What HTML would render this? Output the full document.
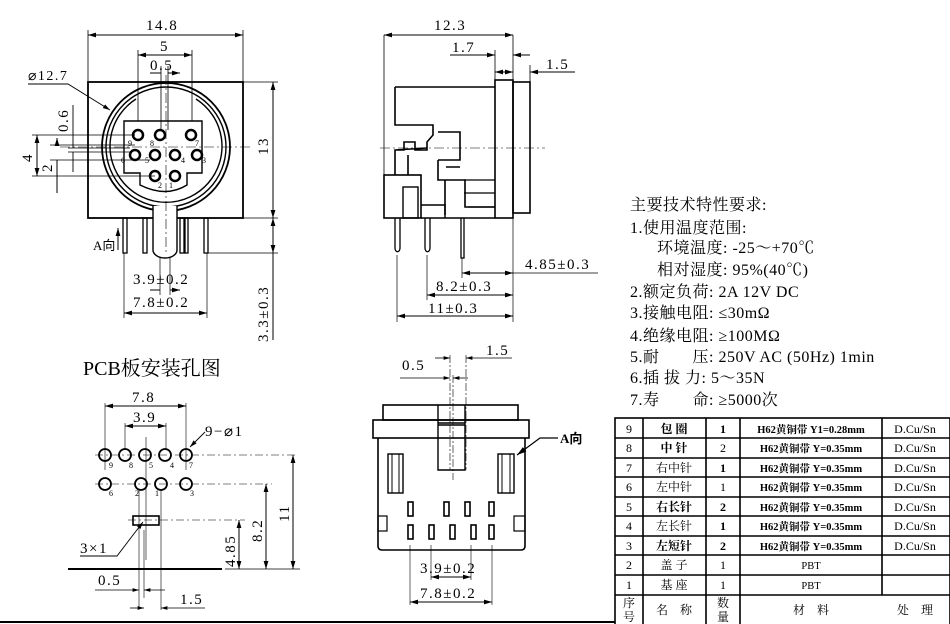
<!DOCTYPE html>
<html><head><meta charset="utf-8"><style>
html,body{margin:0;padding:0;background:#fff;}
svg{display:block;}
text{font-family:"Liberation Serif","Noto Serif CJK SC",serif;fill:#000;}
.c{font-family:"Liberation Serif","Noto Sans CJK SC",sans-serif;}
.d text{letter-spacing:1.5px;}
</style></head><body>
<svg width="950" height="624" viewBox="0 0 950 624" xmlns="http://www.w3.org/2000/svg">
<defs>
<marker id="a" viewBox="0 0 10 6" refX="10" refY="3" markerWidth="8" markerHeight="5" orient="auto-start-reverse"><path d="M0,0L10,3L0,6z" fill="#000"/></marker>
</defs>
<g stroke="#000" fill="none" stroke-width="1">
<rect x="88" y="82" width="155" height="136" stroke-width="1.8"/>
<circle cx="166" cy="147" r="64" stroke-width="1.8"/>
<circle cx="166" cy="147" r="60" stroke-width="1.4"/>
<path d="M136,99 A56,56 0 1 0 196,99" stroke-width="1.4"/>
<path d="M153,206 L153,250 A12,8 0 0 0 177,250 L177,206" fill="#fff" stroke-width="1.4"/>
<path d="M124,121 L202,121 L202,173 L187,173 L187,185 Q166,198 140,185 L140,173 L124,173 Z" stroke-width="1.4"/>
<g stroke-width="2.5">
<circle cx="138" cy="135" r="5"/><circle cx="160" cy="135" r="5"/><circle cx="191" cy="135" r="5"/>
<circle cx="135" cy="155" r="5"/><circle cx="155" cy="155" r="5"/><circle cx="175" cy="155" r="5"/><circle cx="197" cy="155" r="5"/>
<circle cx="155" cy="176" r="5"/><circle cx="175" cy="176" r="5"/>
</g>
<g stroke-width="1.3">
<rect x="123" y="218" width="4" height="35"/><rect x="143" y="218" width="4" height="35"/>
<rect x="180" y="218" width="4" height="35"/><rect x="185" y="218" width="3" height="35"/><rect x="204" y="218" width="4" height="35"/>
</g>
<path d="M88,82V30M243,82V30M138,121V50M192,121V50M161,130V66M168,130V66" stroke-width="0.8"/>
<line x1="88" y1="35" x2="243" y2="35" marker-start="url(#a)" marker-end="url(#a)"/>
<line x1="138" y1="55" x2="192" y2="55" marker-start="url(#a)" marker-end="url(#a)"/>
<path d="M150,73H161M168,73H180" marker-end="url(#a)"/>
<path d="M28,84H68L110,110" stroke-width="0.9" marker-end="url(#a)"/>
<path d="M243,82H278M243,218H278M208,253H278" stroke-width="0.8"/>
<line x1="273" y1="82" x2="273" y2="218" marker-start="url(#a)" marker-end="url(#a)"/>
<line x1="273" y1="218" x2="273" y2="253" marker-start="url(#a)" marker-end="url(#a)"/>
<line x1="273" y1="253" x2="273" y2="340"/>
<path d="M32,135H135M32,176H155M50,145H135M50,160H150M68,148H130M68,152H130" stroke-width="0.7"/>
<line x1="37" y1="135" x2="37" y2="176" marker-start="url(#a)" marker-end="url(#a)"/>
<path d="M57,138V145M57,160V193" marker-start="url(#a)"/>
<path d="M73,105V148M73,152V172" stroke-width="0.9"/>
<path d="M118,250V228" marker-end="url(#a)"/>
<path d="M124,253V318M207,253V318M160,258V295M170,258V295" stroke-width="0.7"/>
<line x1="124" y1="313" x2="207" y2="313" marker-start="url(#a)" marker-end="url(#a)"/>
<path d="M150,290H160M170,290H180" marker-end="url(#a)"/>
<path d="M60,147H250M166,75V255" stroke-width="0.6" stroke-dasharray="10,3,2,3"/>

<rect x="495" y="80" width="18" height="138" stroke-width="1.6"/>
<rect x="513" y="82" width="17" height="131" stroke-width="1.6"/>
<path d="M395,87H495M395,87V125H433V135L427,142V150H415V142H404V150H395V175M395,150L427,148M395,150V175M408,155V175M438,132H460V160H438M438,160V180H465V207H495M438,180H445V215M446,167H460" stroke-width="1.6"/>
<path d="M464,180H495M464,193H495M468,207H495" stroke-width="1.2"/>
<rect x="384" y="175" width="37" height="43" stroke-width="1.6"/>
<rect x="403" y="187" width="15" height="31" stroke-width="1.4"/>
<path d="M421,205H445V218H495M421,218H495" stroke-width="1.4"/>
<path d="M395,218V248A2,3 0 0 0 400,248V218M425,218V248A2,3 0 0 0 430,248V218M461,218V258H464V218" stroke-width="1.3"/>
<path d="M384,35V175M513,35V80M495,50V80M530,65V82" stroke-width="0.8"/>
<line x1="384" y1="35" x2="513" y2="35" marker-start="url(#a)" marker-end="url(#a)"/>
<path d="M450,55H495" marker-end="url(#a)"/><path d="M530,55H513" marker-end="url(#a)"/>
<path d="M495,72H513" marker-start="url(#a)" marker-end="url(#a)"/><path d="M575,72H530" marker-end="url(#a)"/>
<path d="M380,148H545" stroke-width="0.6" stroke-dasharray="10,3,2,3"/>
<path d="M397,255V322M427,255V300M462,258V278M513,218V322" stroke-width="0.7"/>
<line x1="462" y1="273" x2="513" y2="273" marker-start="url(#a)" marker-end="url(#a)"/><path d="M513,273H598" stroke-width="0.8"/>
<line x1="427" y1="295" x2="513" y2="295" marker-start="url(#a)" marker-end="url(#a)"/>
<line x1="397" y1="316" x2="513" y2="316" marker-start="url(#a)" marker-end="url(#a)"/>

<g stroke-width="1.8">
<circle cx="105" cy="455" r="6"/><circle cx="125" cy="455" r="6"/><circle cx="145" cy="455" r="6"/><circle cx="165" cy="455" r="6"/><circle cx="186" cy="455" r="6"/>
<circle cx="105" cy="484" r="6"/><circle cx="141" cy="484" r="6"/><circle cx="161" cy="484" r="6"/><circle cx="186" cy="484" r="6"/>
</g>
<rect x="133" y="516" width="26" height="9" stroke-width="1.6"/>
<path d="M95,455H298M95,484H272M128,520H245" stroke-width="0.6" stroke-dasharray="8,3,2,3"/>
<path d="M105,403V470M186,403V470M125,423V450M166,423V450M146,437V560" stroke-width="0.6"/>
<line x1="105" y1="406" x2="186" y2="406" marker-start="url(#a)" marker-end="url(#a)"/>
<line x1="125" y1="426" x2="166" y2="426" marker-start="url(#a)" marker-end="url(#a)"/>
<path d="M205,432L190,447" marker-end="url(#a)" stroke-width="0.9"/>
<path d="M80,556H117L143,522" marker-end="url(#a)" stroke-width="0.9"/>
<path d="M68,569H222" stroke-width="2"/>
<path d="M139,490V608M144,530V598M161,490V610" stroke-width="0.6"/>
<line x1="293" y1="455" x2="293" y2="569" marker-start="url(#a)" marker-end="url(#a)"/>
<line x1="266" y1="484" x2="266" y2="569" marker-start="url(#a)" marker-end="url(#a)"/>
<line x1="239" y1="520" x2="239" y2="569" marker-start="url(#a)" marker-end="url(#a)"/>
<path d="M225,569H300" stroke-width="0.8"/>
<path d="M95,590H139" marker-end="url(#a)" stroke-width="0.8"/><path d="M165,590H144" marker-end="url(#a)" stroke-width="0.8"/>
<path d="M130,608H144" marker-end="url(#a)" stroke-width="0.8"/><path d="M205,608H161" marker-end="url(#a)" stroke-width="0.8"/>

<rect x="383" y="405" width="135" height="15" stroke-width="1.6"/>
<rect x="373" y="420" width="156" height="18" stroke-width="1.6"/>
<path d="M378,438V546Q378,550 382,550H521Q525,550 525,546V438" stroke-width="1.6"/>
<path d="M438,405V470H465V405M438,423H465M438,425H465" stroke-width="1.4"/>
<rect x="388" y="454" width="15" height="39" stroke-width="1.4"/><rect x="392" y="454" width="7" height="39" stroke-width="1"/>
<rect x="498" y="454" width="16" height="39" stroke-width="1.4"/><rect x="502" y="454" width="8" height="39" stroke-width="1"/>
<rect x="378" y="516" width="9" height="15" stroke-width="1.2"/><rect x="514" y="516" width="11" height="15" stroke-width="1.2"/>
<g stroke-width="1.6">
<rect x="408" y="502" width="5" height="14"/><rect x="444" y="502" width="5" height="14"/><rect x="465" y="502" width="5" height="14"/><rect x="489" y="502" width="5" height="14"/>
<rect x="408" y="525" width="5" height="14"/><rect x="429" y="525" width="5" height="14"/><rect x="450" y="525" width="5" height="14"/><rect x="471" y="525" width="5" height="14"/><rect x="489" y="525" width="5" height="14"/>
</g>
<path d="M450,355V470M453,375V480M466,355V470" stroke-width="0.6" stroke-dasharray="8,2,2,2"/>
<path d="M435,358H450" marker-end="url(#a)" stroke-width="0.8"/><path d="M512,358H466" marker-end="url(#a)" stroke-width="0.8"/>
<path d="M400,378H450" marker-end="url(#a)" stroke-width="0.8"/><path d="M468,378H453" marker-end="url(#a)" stroke-width="0.8"/>
<path d="M410,545V605M431,545V580M471,545V580M492,545V605" stroke-width="0.6"/>
<line x1="431" y1="577" x2="471" y2="577" marker-start="url(#a)" marker-end="url(#a)"/>
<line x1="410" y1="602" x2="492" y2="602" marker-start="url(#a)" marker-end="url(#a)"/>
<path d="M558,438L540,438L517,455" marker-end="url(#a)" stroke-width="1.2"/>

<path d="M0,622H615" stroke-width="2"/>

<g stroke-width="1.6">
<rect x="615" y="418" width="335" height="210"/>
<path d="M643,418V624M706,418V624M740,418V624M882,418V595"/>
<path d="M615,438H950M615,458H950M615,477H950M615,497H950M615,516H950M615,536H950M615,555H950M615,575H950M615,595H950"/>
</g>
</g>

<g font-size="15" class="d">
<text x="146" y="30">14.8</text>
<text x="160" y="51">5</text>
<text x="150" y="70">0.5</text>
<text x="28" y="80" font-size="14">⌀12.7</text>
<text x="133" y="284">3.9±0.2</text>
<text x="133" y="307">7.8±0.2</text>
<text transform="translate(268,155) rotate(-90)">13</text>
<text transform="translate(268,342) rotate(-90)">3.3±0.3</text>
<text transform="translate(32,162) rotate(-90)">4</text>
<text transform="translate(52,172) rotate(-90)">2</text>
<text transform="translate(68,132) rotate(-90)">0.6</text>
<text x="434" y="30">12.3</text>
<text x="452" y="52">1.7</text>
<text x="546" y="69">1.5</text>
<text x="525" y="269">4.85±0.3</text>
<text x="436" y="291">8.2±0.3</text>
<text x="428" y="313">11±0.3</text>
<text x="132" y="402">7.8</text>
<text x="133" y="422">3.9</text>
<text x="205" y="436">9−⌀1</text>
<text x="80" y="553">3×1</text>
<text transform="translate(235,567) rotate(-90)">4.85</text>
<text transform="translate(262,542) rotate(-90)">8.2</text>
<text transform="translate(289,522) rotate(-90)">11</text>
<text x="98" y="585">0.5</text>
<text x="180" y="604">1.5</text>
<text x="402" y="370">0.5</text>
<text x="486" y="355">1.5</text>
<text x="420" y="573">3.9±0.2</text>
<text x="420" y="598">7.8±0.2</text>
</g>
<text x="93" y="250" class="c" font-size="13">A向</text>
<text x="83" y="375" font-size="20">PCB板安装孔图</text>
<text x="560" y="443" font-size="13" font-weight="bold" class="c">A向</text>
<g font-size="8">
<text x="128" y="146">9</text><text x="150" y="146">8</text><text x="195" y="146">7</text>
<text x="121" y="163">6</text><text x="145" y="163">5</text><text x="181" y="163">4</text><text x="202" y="163">3</text>
<text x="158" y="188">2</text><text x="169" y="188">1</text>
<text x="109" y="468">9</text><text x="129" y="468">8</text><text x="149" y="468">5</text><text x="170" y="468">4</text><text x="189" y="468">7</text>
<text x="109" y="496">6</text><text x="135" y="496">2</text><text x="155" y="496">1</text><text x="190" y="496">3</text>
</g>

<g font-size="16" style="letter-spacing:0.5px">
<text x="630" y="210">主要技术特性要求:</text>
<text x="630" y="233">1.使用温度范围:</text>
<text x="657" y="253">环境温度: -25～+70℃</text>
<text x="657" y="275">相对湿度: 95%(40℃)</text>
<text x="630" y="297">2.额定负荷: 2A 12V DC</text>
<text x="630" y="318">3.接触电阻: ≤30mΩ</text>
<text x="630" y="341">4.绝缘电阻: ≥100MΩ</text>
<text x="630" y="362">5.耐　　压: 250V AC (50Hz) 1min</text>
<text x="630" y="383">6.插 拔 力: 5～35N</text>
<text x="630" y="405">7.寿　　命: ≥5000次</text>
</g>

<g font-size="12" text-anchor="middle">
<text x="629" y="433">9</text><text x="674" y="433" font-weight="bold">包 圈</text><text x="723" y="433" font-weight="bold">1</text><text x="811" y="433" font-weight="bold" font-size="10.5">H62黄铜带 Y1=0.28mm</text><text x="915" y="433">D.Cu/Sn</text>
<text x="629" y="452">8</text><text x="674" y="452" font-weight="bold">中 针</text><text x="723" y="452">2</text><text x="811" y="452" font-weight="bold" font-size="10.5">H62黄铜带 Y=0.35mm</text><text x="915" y="452">D.Cu/Sn</text>
<text x="629" y="472">7</text><text x="674" y="472">右中针</text><text x="723" y="472" font-weight="bold">1</text><text x="811" y="472" font-weight="bold" font-size="10.5">H62黄铜带 Y=0.35mm</text><text x="915" y="472">D.Cu/Sn</text>
<text x="629" y="491">6</text><text x="674" y="491">左中针</text><text x="723" y="491">1</text><text x="811" y="491" font-weight="bold" font-size="10.5">H62黄铜带 Y=0.35mm</text><text x="915" y="491">D.Cu/Sn</text>
<text x="629" y="511">5</text><text x="674" y="511" font-weight="bold">右长针</text><text x="723" y="511" font-weight="bold">2</text><text x="811" y="511" font-weight="bold" font-size="10.5">H62黄铜带 Y=0.35mm</text><text x="915" y="511">D.Cu/Sn</text>
<text x="629" y="530">4</text><text x="674" y="530">左长针</text><text x="723" y="530" font-weight="bold">1</text><text x="811" y="530" font-weight="bold" font-size="10.5">H62黄铜带 Y=0.35mm</text><text x="915" y="530">D.Cu/Sn</text>
<text x="629" y="550">3</text><text x="674" y="550" font-weight="bold">左短针</text><text x="723" y="550" font-weight="bold">2</text><text x="811" y="550" font-weight="bold" font-size="10.5">H62黄铜带 Y=0.35mm</text><text x="915" y="550">D.Cu/Sn</text>
<text x="629" y="569">2</text><text x="674" y="569">盖 子</text><text x="723" y="569">1</text><text x="811" y="569" font-size="10.5">PBT</text>
<text x="629" y="589">1</text><text x="674" y="589">基 座</text><text x="723" y="589">1</text><text x="811" y="589" font-size="10.5">PBT</text>
<text x="629" y="607">序</text><text x="629" y="621">号</text><text x="674" y="614">名　称</text><text x="723" y="607">数</text><text x="723" y="621">量</text><text x="811" y="614">材　料</text><text x="915" y="614">处　理</text>
</g>
</svg>
</body></html>
